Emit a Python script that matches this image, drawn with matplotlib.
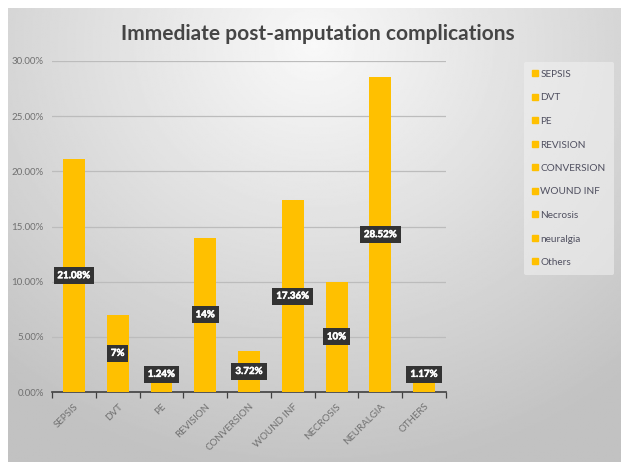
import numpy as np
import matplotlib
matplotlib.use('Agg')
import matplotlib.pyplot as plt
import matplotlib.patheffects as pe

plt.rcParams['font.family'] = ['Lato', 'DejaVu Sans']

categories = ['SEPSIS', 'DVT', 'PE', 'REVISION', 'CONVERSION', 'WOUND INF',
              'NECROSIS', 'NEURALGIA', 'OTHERS']
legend_names = ['SEPSIS', 'DVT', 'PE', 'REVISION', 'CONVERSION', 'WOUND INF',
                'Necrosis', 'neuralgia', 'Others']
values = [21.08, 7, 1.24, 14, 3.72, 17.36, 10, 28.52, 1.17]
value_labels = ['21.08%', '7%', '1.24%', '14%', '3.72%', '17.36%', '10%', '28.52%', '1.17%']

gold = '#FFC000'

fig = plt.figure(figsize=(6.21, 4.66), dpi=100)
fig.patch.set_facecolor('white')

# gray gradient panel behind the chart
bg = fig.add_axes([8 / 621, 4 / 466, 613 / 621, 454 / 466])
bg.set_axis_off()
yy, xx = np.mgrid[0:1:300j, 0:1:400j]
d = np.sqrt(((xx - 0.5) * 1.1) ** 2 + ((yy - 0.08) * 0.9) ** 2)
shade = np.clip(0.975 - 0.25 * d, 0.76, 0.98)
bg.imshow(shade, cmap='gray', vmin=0, vmax=1, aspect='auto', extent=[0, 1, 0, 1], origin='upper')

ax = fig.add_axes([52 / 621, 74 / 466, 394 / 621, 331 / 466])
ax.patch.set_alpha(0)
x = np.arange(len(categories))
bars = ax.bar(x, values, width=0.5, color=gold, zorder=3)

ax.set_ylim(0, 30)
ax.set_xlim(-0.5, len(categories) - 0.5)
ax.set_yticks(np.arange(0, 31, 5))
ax.set_yticklabels(['%.2f%%' % t for t in np.arange(0, 31, 5)], fontsize=7, color='#707070')
ax.yaxis.grid(True, color='#bcbcbc', linewidth=0.9, zorder=0)
ax.tick_params(axis='y', length=0, pad=6)

ax.set_xticks(x)
ax.set_xticklabels(categories, rotation=45, ha='right', rotation_mode='anchor',
                   fontsize=7, color='#707070')
ax.set_xticks(np.arange(-0.5, len(categories)), minor=True)
ax.tick_params(axis='x', which='major', length=0, pad=7)
ax.tick_params(axis='x', which='minor', length=4, color='#404040', width=0.9)
for s in ['top', 'right', 'left']:
    ax.spines[s].set_visible(False)
ax.spines['bottom'].set_color('#404040')
ax.spines['bottom'].set_linewidth(1.2)

for i, (v, lab) in enumerate(zip(values, value_labels)):
    ypos = max(v / 2, 1.6)
    ax.text(i, ypos, lab, ha='center', va='center', fontsize=7, fontweight='bold',
            color='white', zorder=5,
            bbox=dict(boxstyle='square,pad=0.4', facecolor='#333333', edgecolor='none'),
            path_effects=[pe.withStroke(linewidth=0.4, foreground='white')])

fig.text(0.512, 0.928, 'Immediate post-amputation complications', ha='center', va='center',
         fontsize=15, fontweight='bold', color='#454545')

handles = [plt.Rectangle((0, 0), 1, 1, color=gold) for _ in legend_names]
leg = fig.legend(handles, legend_names, loc='upper left', bbox_to_anchor=(519 / 621, 1 - 57 / 466),
                 fontsize=7.2, frameon=True, handlelength=0.55, handleheight=0.55,
                 handletextpad=0.3, labelspacing=1.45, borderpad=0.8)
leg.get_frame().set_facecolor('#f0f0f0')
leg.get_frame().set_edgecolor('none')
leg.get_frame().set_alpha(0.6)
for t in leg.get_texts():
    t.set_color('#505060')

fig.savefig('out.png', dpi=100)
